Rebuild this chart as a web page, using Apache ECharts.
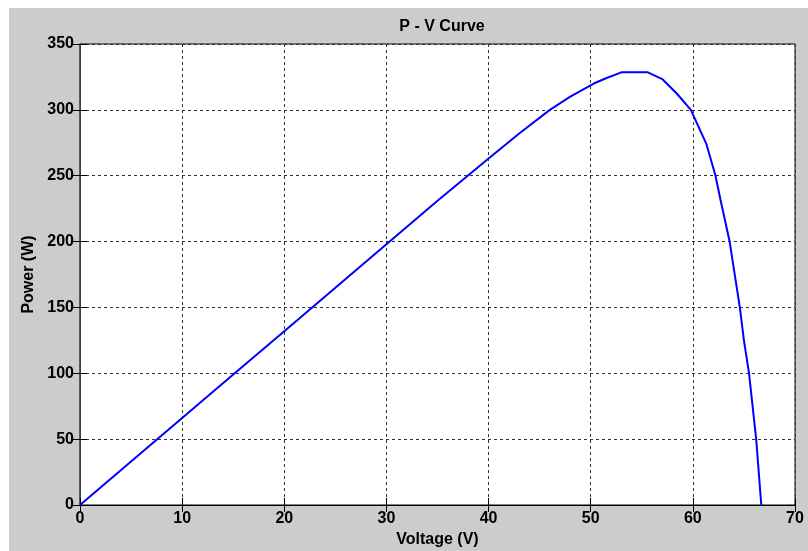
<!DOCTYPE html>
<html>
<head>
<meta charset="utf-8">
<script src="https://cdn.jsdelivr.net/npm/echarts@6/dist/echarts.min.js"></script>
<style>
  html, body { margin: 0; padding: 0; background: #ffffff; }
  #frame { position: absolute; left: 9px; top: 8px; width: 799px; height: 543px; background: #cccccc; }
  #chart { position: absolute; left: 0; top: 0; width: 808px; height: 551px; }
</style>
</head>
<body>
<div id="frame"></div>
<div id="chart"></div>
<script>
// Panel voltage (V) and output power (W) along the P-V characteristic
const voltage = [0, 5, 10, 15, 20, 25, 30, 35, 40, 43, 46, 48, 50.3, 51.5, 53.0, 55.6, 57.0, 58.4, 59.8, 61.3, 62.2, 62.7, 63.6, 64.6, 65.0, 65.5, 66.2, 66.7];
const power   = [0, 33, 66, 99, 132, 165, 198, 231, 263, 282, 300, 310, 320, 324, 328.5, 328.5, 323.4, 312.6, 300, 274.6, 250.5, 232, 200, 150, 125, 100, 50, 0];

const xTicks = { min: 0, max: 70, interval: 10 };
const yTicks = { min: 0, max: 350, interval: 50 };

const points = voltage.map((v, i) => [v, power[i]]);

const labelFont = { fontFamily: 'Liberation Sans, Arial, sans-serif', fontWeight: 'bold', fontSize: 16, color: '#000' };
const gridLine = { show: true, lineStyle: { color: '#333', width: 1, type: [3, 3] } };

const chart = echarts.init(document.getElementById('chart'), null, { renderer: 'canvas' });
chart.setOption({
  backgroundColor: 'transparent',
  animation: false,
  title: {
    text: 'P - V Curve',
    left: 437, top: 14, textAlign: 'center',
    textStyle: Object.assign({}, labelFont)
  },
  grid: {
    left: 80, right: 13, top: 44, bottom: 46,
    containLabel: false, outerBoundsMode: 'none',
    show: true, backgroundColor: '#ffffff', borderColor: '#000', borderWidth: 1
  },
  xAxis: [{
    type: 'value', min: xTicks.min, max: xTicks.max, interval: xTicks.interval,
    name: 'Voltage (V)', nameLocation: 'middle', nameGap: 26,
    nameTextStyle: Object.assign({}, labelFont),
    axisLine: { show: true, onZero: false, lineStyle: { color: '#000', width: 1 } },
    axisTick: { show: true, inside: true, length: 7, lineStyle: { color: '#000' } },
    axisLabel: Object.assign({ margin: 6 }, labelFont),
    splitLine: gridLine
  }, {
    type: 'value', position: 'top', min: xTicks.min, max: xTicks.max, interval: xTicks.interval,
    axisLine: { show: true, lineStyle: { color: '#000', width: 1 } },
    axisTick: { show: true, inside: true, length: 7, lineStyle: { color: '#000' } },
    axisLabel: { show: false }, splitLine: { show: false }
  }],
  yAxis: [{
    type: 'value', min: yTicks.min, max: yTicks.max, interval: yTicks.interval,
    name: 'Power (W)', nameLocation: 'middle', nameGap: 42,
    nameTextStyle: Object.assign({}, labelFont),
    axisLine: { show: true, onZero: false, lineStyle: { color: '#000', width: 1 } },
    axisTick: { show: true, inside: true, length: 7, lineStyle: { color: '#000' } },
    axisLabel: Object.assign({ margin: 6 }, labelFont),
    splitLine: gridLine
  }, {
    type: 'value', position: 'right', min: yTicks.min, max: yTicks.max, interval: yTicks.interval,
    axisLine: { show: true, lineStyle: { color: '#555', width: 1.5 } },
    axisTick: { show: true, inside: true, length: 7, lineStyle: { color: '#000' } },
    axisLabel: { show: false }, splitLine: { show: false }
  }],
  series: [{
    type: 'line',
    xAxisIndex: 0, yAxisIndex: 0,
    data: points,
    showSymbol: false,
    smooth: false,
    lineStyle: { color: '#0000ff', width: 2 },
    itemStyle: { color: '#0000ff' }
  }]
});
</script>
</body>
</html>
